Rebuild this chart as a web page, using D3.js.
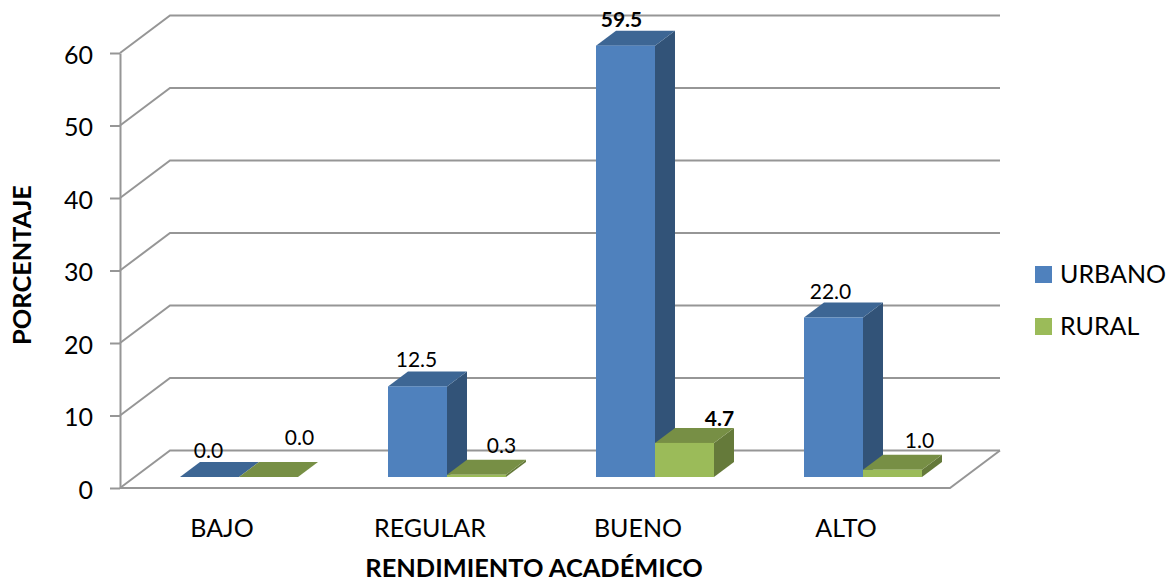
<!DOCTYPE html>
<html>
<head>
<meta charset="utf-8">
<script src="https://cdn.jsdelivr.net/npm/d3@7"></script>
<style>
    body { margin: 0; background: #fff; }
    text { font-family: Lato, "Open Sans", sans-serif; fill: #000; }
</style>
</head>
<body>
<svg id="chart" width="1167" height="581"></svg>
<script>
var categories = ['BAJO', 'REGULAR', 'BUENO', 'ALTO'];
var seriesNames = ['URBANO', 'RURAL'];
var urbano = [0.0, 12.5, 59.5, 22.0];
var rural = [0.0, 0.3, 4.7, 1.0];
var boldLabels = ['59.5', '4.7'];
var yTicks = [0, 10, 20, 30, 40, 50, 60];

// data labels were moved by hand in the original, [dx, dy] from the bar top
var urbanoNudge = [[-10, 0], [-10, 0], [-13, 0], [-12, 0]];
var ruralNudge = [[22, -13], [16, -3], [26, 2], [18, -3]];

var wallDx = 50, wallDy = -37.5;  // floor depth
var barDx = 20, barDy = -15;      // bar depth
var barInset = 60, barWidth = 59;
var baseline = 477;

var colors = {
    URBANO: {front: '#4f81bd', top: '#3d6694', side: '#325378'},
    RURAL: {front: '#9bbb59', top: '#778f45', side: '#657a3a'}
};

var svg = d3.select('#chart');

var x = d3.scaleBand().domain(categories).range([120, 952]);
var y = d3.scaleLinear().domain([0, 60]).range([488, 53]);
var h = d3.scaleLinear().domain([0, 60]).range([0, 435]);

function pts(list) {
    return list.map(function (p) { return p.join(','); }).join(' ');
}

// walls and floor
var grid = svg.append('g').attr('fill', 'none').attr('stroke', '#969696').attr('stroke-width', 2);
yTicks.forEach(function (t) {
    grid.append('polyline')
        .attr('points', pts([[120, y(t)], [120 + wallDx, y(t) + wallDy], [1000, y(t) + wallDy]]));
});
grid.append('polyline')
    .attr('points', pts([[120, y(0)], [950, y(0)], [1000, y(0) + wallDy]]));

// value axis
var yAxis = d3.axisLeft(y).tickValues(yTicks).tickSize(10).tickPadding(17).tickSizeOuter(0);
var yAxisG = svg.append('g').attr('transform', 'translate(120,0)').call(yAxis);
yAxisG.selectAll('path, line').attr('stroke', '#969696').attr('stroke-width', 2);
yAxisG.selectAll('text').style('font-size', '25px').attr('fill', '#000').attr('y', 2);

// bars
function drawBar(group, name, value, left) {
    var c = colors[name];
    var top = baseline - h(value);
    var right = left + barWidth;
    group.append('polygon').attr('fill', c.side)
        .attr('points', pts([[right, baseline], [right + barDx, baseline + barDy], [right + barDx, top + barDy], [right, top]]));
    group.append('polygon').attr('fill', c.top)
        .attr('points', pts([[left, top], [left + barDx, top + barDy], [right + barDx, top + barDy], [right, top]]));
    group.append('rect').attr('fill', c.front)
        .attr('x', left).attr('y', top)
        .attr('width', barWidth).attr('height', h(value));
}

function drawLabel(value, left, nudge) {
    var label = value.toFixed(1);
    svg.append('text')
        .attr('x', left + barWidth / 2 + barDx / 2 - 1 + nudge[0])
        .attr('y', baseline - h(value) + barDy - 4 + nudge[1])
        .attr('text-anchor', 'middle')
        .style('font-size', '21px')
        .style('font-weight', boldLabels.indexOf(label) != -1 ? 'bold' : 'normal')
        .text(label);
}

var bars = svg.append('g');
categories.forEach(function (cat, i) {
    var left = x(cat) + barInset;
    drawBar(bars, 'URBANO', urbano[i], left);
    drawBar(bars, 'RURAL', rural[i], left + barWidth);
});
categories.forEach(function (cat, i) {
    var left = x(cat) + barInset;
    drawLabel(urbano[i], left, urbanoNudge[i]);
    drawLabel(rural[i], left + barWidth, ruralNudge[i]);
});

// category labels
categories.forEach(function (cat) {
    svg.append('text')
        .attr('x', x(cat) + x.bandwidth() / 2 - 2)
        .attr('y', 537)
        .attr('text-anchor', 'middle')
        .style('font-size', '25px')
        .text(cat);
});

// axis titles
svg.append('text')
    .attr('x', 534).attr('y', 577)
    .attr('text-anchor', 'middle')
    .style('font-size', '25.4px').style('font-weight', 'bold')
    .text('RENDIMIENTO ACADÉMICO');
svg.append('text')
    .attr('transform', 'translate(31,265) rotate(-90)')
    .attr('text-anchor', 'middle')
    .style('font-size', '25.4px').style('font-weight', 'bold')
    .text('PORCENTAJE');

// legend
var legend = d3.scaleBand().domain(seriesNames).range([256, 360]);
seriesNames.forEach(function (name) {
    svg.append('rect')
        .attr('x', 1035).attr('y', legend(name) + 10)
        .attr('width', 17).attr('height', 17)
        .attr('fill', colors[name].front);
    svg.append('text')
        .attr('x', 1060).attr('y', legend(name) + 27)
        .style('font-size', '25px')
        .text(name);
});
</script>
</body>
</html>
